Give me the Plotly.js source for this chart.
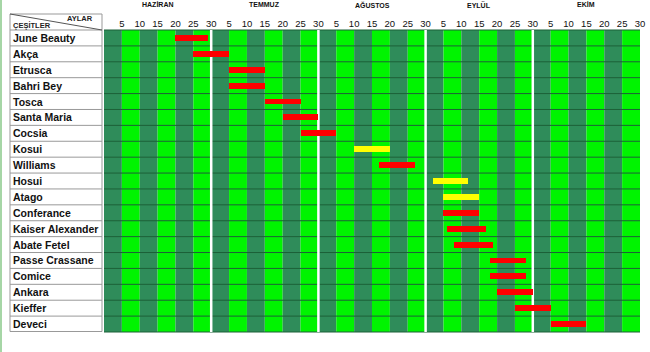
<!DOCTYPE html>
<html>
<head>
<meta charset="utf-8">
<script src="https://cdn.plot.ly/plotly-3.0.1.min.js"></script>
<style>
html,body{margin:0;padding:0;background:#fff;}
#wrap{position:relative;width:650px;height:352px;}
#edge{position:absolute;left:0;top:0;width:2px;height:352px;background:#a6d6a6;z-index:5;}
#chart{position:absolute;left:0;top:0;width:650px;height:352px;}
</style>
</head>
<body>
<div id="wrap"><div id="edge"></div><div id="chart"></div></div>
<script>
// ---- data ----
const months = ['HAZİRAN', 'TEMMUZ', 'AĞUSTOS', 'EYLÜL', 'EKİM'];
const dayTicks = [5, 10, 15, 20, 25, 30];
const varieties = ['June Beauty', 'Akça', 'Etrusca', 'Bahri Bey', 'Tosca', 'Santa Maria', 'Cocsia',
  'Kosui', 'Williams', 'Hosui', 'Atago', 'Conferance', 'Kaiser Alexander', 'Abate Fetel',
  'Passe Crassane', 'Comice', 'Ankara', 'Kieffer', 'Deveci'];
// month index (0 = Haziran) and day of harvest start / end
const startMonth = [0, 0, 1, 1, 1, 1, 1, 2, 2, 3, 3, 3, 3, 3, 3, 3, 3, 3, 4];
const startDay   = [20, 25, 5, 5, 15, 20, 25, 10, 17, 2, 5, 5, 6, 8, 18, 18, 20, 25, 5];
const endMonth   = [0, 1, 1, 1, 1, 1, 2, 2, 2, 3, 3, 3, 3, 3, 3, 3, 3, 4, 4];
const endDay     = [29, 5, 15, 15, 25, 30, 5, 20, 27, 12, 15, 15, 17, 19, 28, 28, 30, 5, 15];
const pearType = ['E', 'E', 'E', 'E', 'E', 'E', 'E', 'A', 'E', 'A', 'A', 'E', 'E', 'E', 'E', 'E', 'E', 'E', 'E'];
const headerTop = 'AYLAR';
const headerBottom = 'ÇEŞİTLER';

// ---- derived ----
const DAYS = 30;
const typeColor = {E: '#ff0000', A: '#ffff00'};
const starts = startMonth.map((m, i) => m * DAYS + startDay[i]);
const ends = endMonth.map((m, i) => m * DAYS + endDay[i]);
const durations = ends.map((e, i) => e - starts[i]);
const total = months.length * DAYS;

const tickvals = [], ticktext = [];
months.forEach((m, mi) => dayTicks.forEach(d => { tickvals.push(mi * DAYS + d); ticktext.push(String(d)); }));

const W = 650, H = 352, ML = 104, MR = 10, MT = 30, MB = 20;
const PW = W - ML - MR, PH = H - MT - MB;
const px = x => (x - ML) / PW;          // pixel x -> paper x
const py = y => 1 - (y - MT) / PH;      // pixel y -> paper y
const n = varieties.length;

const shapes = [];
// stripes
for (let d = 0; d < total; d += 5) {
  const dark = ((d / 5) % 2) === 0;
  shapes.push({type: 'rect', layer: 'below', xref: 'x', yref: 'paper', x0: d, x1: d + 5, y0: 0, y1: 1,
    fillcolor: dark ? '#2f8c5a' : '#00f400', line: {width: 0}});
}
// row lines
for (let i = 0; i <= n; i++) {
  shapes.push({type: 'line', layer: 'below', xref: 'paper', yref: 'paper', x0: 0, x1: 1,
    y0: 1 - i / n, y1: 1 - i / n, line: {color: '#1d6038', width: 1}});
}
// month separators
for (let m = 1; m < months.length; m++) {
  shapes.push({type: 'line', layer: 'below', xref: 'x', yref: 'paper', x0: m * DAYS, x1: m * DAYS,
    y0: 0, y1: 1, line: {color: '#ffffff', width: 2.5}});
}
// left table
const tx0 = px(10), tx1 = px(102);
const tcol = '#999999';
shapes.push({type: 'rect', xref: 'paper', yref: 'paper', x0: tx0, x1: tx1, y0: py(331.5), y1: py(14),
  line: {color: tcol, width: 1}, fillcolor: 'rgba(0,0,0,0)'});
for (let i = 0; i < n; i++) {
  shapes.push({type: 'line', xref: 'paper', yref: 'paper', x0: tx0, x1: tx1,
    y0: 1 - i / n, y1: 1 - i / n, line: {color: tcol, width: 1}});
}
shapes.push({type: 'line', xref: 'paper', yref: 'paper', x0: tx0, x1: tx1, y0: py(14), y1: py(30),
  line: {color: '#555', width: 1}});

const annotations = [];
months.forEach((m, mi) => annotations.push({
  text: '<b>' + m + '</b>', xref: 'x', yref: 'paper', x: mi * DAYS + DAYS / 2, y: py(5), showarrow: false,
  xanchor: 'center', yanchor: 'middle',
  font: {family: 'Liberation Sans Narrow, Liberation Sans, Arial', size: 7, color: '#111'}
}));
varieties.forEach(v => annotations.push({
  text: '<b>' + v + '</b>', xref: 'paper', yref: 'y', x: px(11), y: v, showarrow: false,
  xanchor: 'left', yanchor: 'middle',
  font: {family: 'Liberation Sans, Arial', size: 10.5, color: '#111'}
}));
annotations.push({text: '<b>' + headerTop + '</b>', xref: 'paper', yref: 'paper', x: px(80), y: py(18.5),
  showarrow: false, xanchor: 'center', yanchor: 'middle',
  font: {family: 'Liberation Sans, Arial', size: 7.5, color: '#222'}});
annotations.push({text: '<b>' + headerBottom + '</b>', xref: 'paper', yref: 'paper', x: px(11), y: py(25.5),
  showarrow: false, xanchor: 'left', yanchor: 'middle',
  font: {family: 'Liberation Sans, Arial', size: 7.5, color: '#222'}});

const trace = {
  type: 'bar', orientation: 'h', y: varieties, x: durations, base: starts,
  width: 0.37, marker: {color: pearType.map(t => typeColor[t]), line: {width: 0}},
  hoverinfo: 'y'
};

const layout = {
  width: W, height: H, margin: {l: ML, r: MR, t: MT, b: MB, pad: 0},
  paper_bgcolor: '#ffffff', plot_bgcolor: '#ffffff', showlegend: false,
  xaxis: {range: [0, total], side: 'top', tickvals, ticktext, showgrid: false, zeroline: false,
    showline: false, ticks: '', fixedrange: true,
    tickfont: {family: 'Liberation Sans, Arial', size: 9.5, color: '#111'}},
  yaxis: {type: 'category', range: [n - 0.5, -0.5], showticklabels: false, showgrid: false,
    zeroline: false, ticks: '', fixedrange: true},
  shapes, annotations, bargap: 0
};
Plotly.newPlot('chart', [trace], layout, {displayModeBar: false, staticPlot: true});
</script>
</body>
</html>
